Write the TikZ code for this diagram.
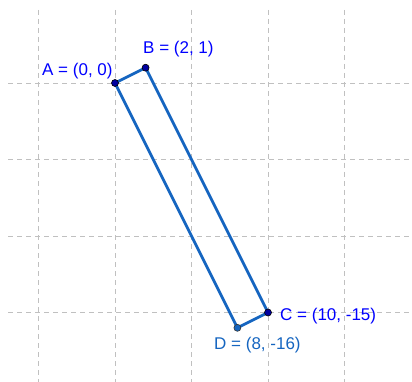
\documentclass[tikz,border=0pt]{standalone}
\usepackage{fontspec}
\setmainfont{Liberation Sans}
\definecolor{segblue}{RGB}{21,101,192}
\definecolor{lblblue}{RGB}{0,0,255}
\definecolor{ptblue}{RGB}{0,0,160}
\definecolor{gridgray}{RGB}{192,192,192}
\tikzset{
  gridline/.style={draw=gridgray, line width=0.8pt, dash pattern=on 5pt off 4pt},
  seg/.style={draw=segblue, line width=2.8pt, line join=round},
  pt/.style={circle, fill=ptblue, draw=black, line width=0.6pt, inner sep=0pt, minimum size=7pt},
  ptd/.style={circle, fill=segblue, draw=black!80, line width=0.6pt, inner sep=0pt, minimum size=7pt},
  lbl/.style={anchor=base west, inner sep=0pt, text=lblblue, font=\fontsize{17}{20}\selectfont},
  lbld/.style={lbl, text=segblue}
}
\begin{document}
\begin{tikzpicture}[x=1pt,y=-1pt]
\useasboundingbox (0,0) rectangle (412,382);
% grid
\foreach \gx in {38.5,115,191.5,268,344.5} { \draw[gridline] (\gx,10) -- (\gx,382); }
\foreach \gy in {83,159.5,236,312.5} { \draw[gridline] (8,\gy) -- (412,\gy); }
% points
\coordinate (A) at (115,83);
\coordinate (B) at (145.6,67.7);
\coordinate (C) at (268,312.5);
\coordinate (D) at (237.4,327.8);
\draw[seg] (A) -- (B) -- (C) -- (D) -- cycle;
\node[pt] (pA) at (A) {};
\node[pt] (pB) at (B) {};
\node[pt] (pC) at (C) {};
\node[ptd] (pD) at (D) {};
% labels
\node[lbl] (lA) at (42,75.5) {A = (0, 0)};
\node[lbl] (lB) at (143,54) {B = (2, 1)};
\node[lbl] (lC) at (280,320) {C = (10, -15)};
\node[lbld] (lD) at (214,349) {D = (8, -16)};
\end{tikzpicture}
\end{document}
